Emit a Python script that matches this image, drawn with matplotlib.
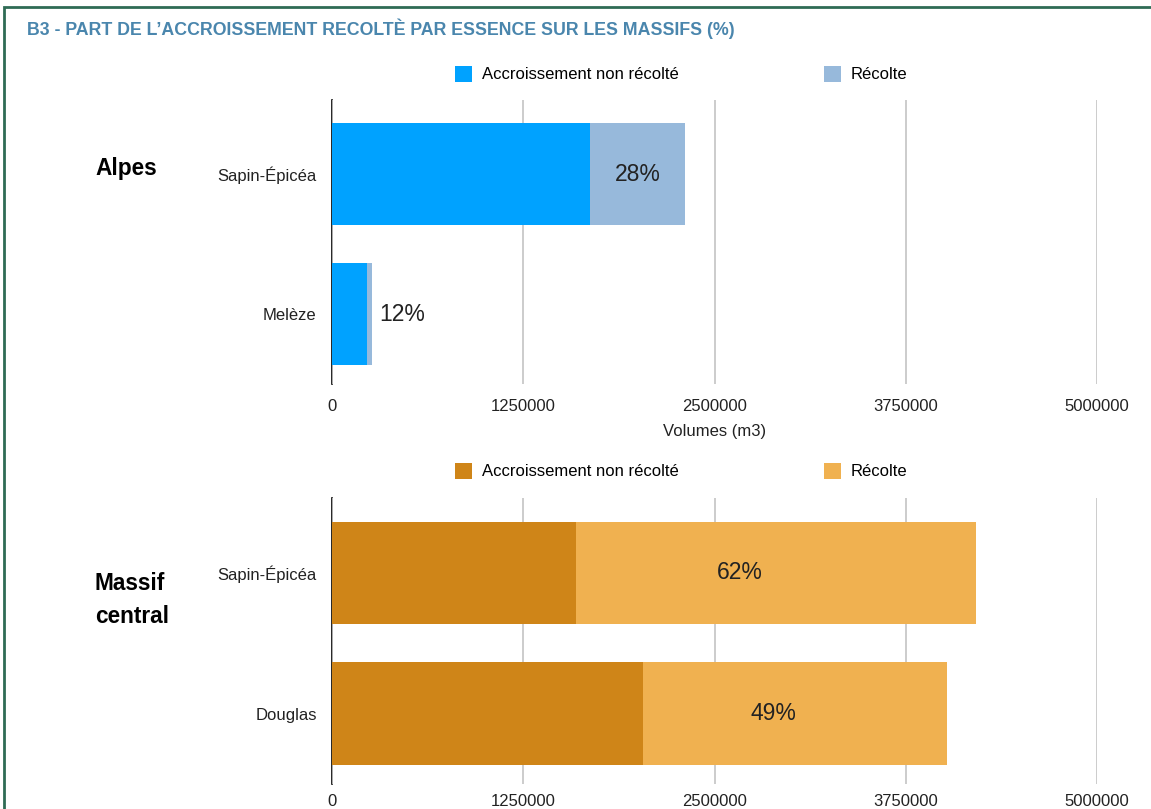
import matplotlib
matplotlib.use("Agg")
import matplotlib.pyplot as plt
from matplotlib.patches import Patch, Rectangle

plt.rcParams['font.family'] = ['Liberation Sans', 'DejaVu Sans']

# ---------------- data ----------------
title = "B3 - PART DE L\u2019ACCROISSEMENT RECOLT\u00c8 PAR ESSENCE SUR LES MASSIFS (%)"
legend_labels = ["Accroissement non récolté", "Récolte"]

alpes_species = ["Sapin-Épicéa", "Melèze"]
alpes_non_recolte = [1686000, 229000]
alpes_recolte = [621000, 32000]
alpes_pct = ["28%", "12%"]

mc_species = ["Sapin-Épicéa", "Douglas"]
mc_non_recolte = [1595000, 2033000]
mc_recolte = [2614000, 1987000]
mc_pct = ["62%", "49%"]

xticks = [0, 1250000, 2500000, 3750000, 5000000]
xlabel = "Volumes (m3)"

alpes_colors = ["#00a2ff", "#97b9db"]
mc_colors = ["#cf8518", "#f0b150"]

W, H = 1151, 809
fig = plt.figure(figsize=(W / 100, H / 100), dpi=100)
fig.patch.set_facecolor("white")

FS = 12


def fx(px):
    return px / W


def fy(py):
    return 1 - py / H


def draw_panel(top, bottom, species, nonrec, rec, pct, colors, pct_pos, outside, xpad):
    ax = fig.add_axes([fx(332), fy(bottom), fx(1097) - fx(332), fy(top) - fy(bottom)])
    ypos = list(range(len(species)))
    ax.barh(ypos, nonrec, height=0.725, color=colors[0], zorder=3)
    ax.barh(ypos, rec, left=nonrec, height=0.725, color=colors[1], zorder=3)
    ax.set_xlim(0, 5000000)
    ax.set_ylim(1.5, -0.53)
    ax.set_xticks(xticks)
    ax.set_xticklabels([str(t) for t in xticks], fontsize=FS, color="#222222")
    ax.set_yticks(ypos)
    ax.set_yticklabels(species, fontsize=FS, color="#222222")
    ax.tick_params(axis='x', length=0, pad=xpad)
    ax.tick_params(axis='y', length=0, pad=11)
    ax.grid(axis='x', color="#c4c4c4", linewidth=1.2, zorder=0)
    for s in ["top", "right", "bottom"]:
        ax.spines[s].set_visible(False)
    ax.spines["left"].set_color("black")
    ax.spines["left"].set_linewidth(1.2)
    ax.spines["left"].set_zorder(1)
    for i in ypos:
        if outside[i]:
            ax.text(nonrec[i] + rec[i] + 50000, i, pct[i], ha='left', va='center',
                    fontsize=16.5, color="#222222", zorder=5)
        else:
            ax.text(nonrec[i] + rec[i] * pct_pos[i], i, pct[i], ha='center', va='center',
                    fontsize=16.5, color="#222222", zorder=5)
    return ax


ax1 = draw_panel(100, 384, alpes_species, alpes_non_recolte, alpes_recolte, alpes_pct,
                 alpes_colors, [0.5, 0.5], [False, True], 11)
ax1.set_xlabel(xlabel, fontsize=FS, color="#222222", labelpad=7)

ax2 = draw_panel(498, 784, mc_species, mc_non_recolte, mc_recolte, mc_pct,
                 mc_colors, [0.41, 0.43], [False, False], 7)


def legend(y, colors):
    handles = [Patch(facecolor=c, edgecolor='none') for c in colors]
    fig.legend(handles, legend_labels, ncol=2, loc='center left',
               bbox_to_anchor=(fx(455), fy(y)), frameon=False, fontsize=FS,
               handlelength=1.02, handleheight=1.1, handletextpad=0.6,
               columnspacing=8.7, borderaxespad=0, borderpad=0)


legend(74, alpes_colors)
legend(471, mc_colors)

# group labels
fig.text(fx(95), fy(168), "Alpes", fontsize=16.3, fontweight='bold', va='center', ha='left')
fig.text(fx(95), fy(600), "Massif\ncentral", fontsize=16.3, fontweight='bold', va='center',
         ha='left', linespacing=1.6)

# title
fig.text(fx(27), fy(29), title, fontsize=12.8, fontweight='bold', color="#4a86ad",
         va='center', ha='left')

# frame border
fig.patches.append(Rectangle((fx(4), fy(900)), 1.5, fy(7) - fy(900), transform=fig.transFigure,
                             fill=False, edgecolor="#2f6b55", linewidth=2))

fig.savefig("out.png", dpi=100, facecolor="white")
